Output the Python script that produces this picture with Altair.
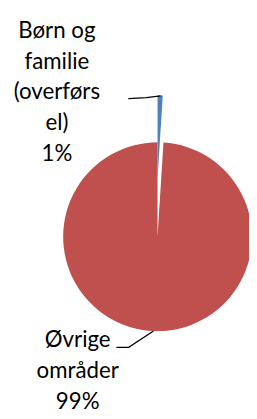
import altair as alt
import pandas as pd

# ---- data ----
categories = ["Børn og familie (overførsel)", "Øvrige områder"]
values = [1.0, 99.0]
label_text = ["Børn og\nfamilie\n(overførs\nel)\n1%", "Øvrige\nområder\n99%"]
colors = ["#4F81BD", "#C0504D"]

# ---- layout constants (pixels, chart coordinates) ----
CX, CY, R = 154.5, 229.5, 97.5
EXPLODE, R_EXPLODED = 60.0, 86.0
LABEL_X = [50.5, 72.0]
LABEL_Y = [23.7, 343.7]   # baseline of first line
LEADER_GRP = [0, 0, 0, 1, 1, 1]
LEADER_ORD = [0, 1, 2, 0, 1, 2]
LEADER_X = [124.3, 143.0, 157.7, 112.0, 124.7, 150.3]
LEADER_Y = [86.7, 85.7, 84.0, 343.7, 343.7, 327.0]

df = pd.DataFrame({"category": categories, "value": values, "idx": list(range(len(values)))})


def pie(show_idx, cy, radius):
    return alt.Chart(df).mark_arc(outerRadius=radius).encode(
        theta=alt.Theta("value:Q", stack=True),
        order=alt.Order("idx:Q", sort="ascending"),
        color=alt.Color("category:N", scale=alt.Scale(domain=categories, range=colors), legend=None),
        opacity=alt.condition(alt.datum.idx == show_idx, alt.value(1), alt.value(0)),
        x=alt.value(CX),
        y=alt.value(cy),
    )


red = pie(1, CY, R)
blue = pie(0, CY - EXPLODE, R_EXPLODED)

text_df = pd.DataFrame({"label": label_text, "x": LABEL_X, "y": LABEL_Y})
labels = alt.Chart(text_df).mark_text(
    font="Lato", fontSize=23, lineHeight=32, lineBreak="\n",
    align="center", baseline="alphabetic", color="black"
).encode(
    text="label:N",
    x=alt.X("x:Q", scale=None, axis=None),
    y=alt.Y("y:Q", scale=None, axis=None),
)

lead_df = pd.DataFrame({"grp": LEADER_GRP, "o": LEADER_ORD, "x": LEADER_X, "y": LEADER_Y})
leaders = alt.Chart(lead_df).mark_line(color="black", strokeWidth=1.3).encode(
    x=alt.X("x:Q", scale=None, axis=None),
    y=alt.Y("y:Q", scale=None, axis=None),
    detail="grp:N",
    order="o:Q",
)

chart = alt.layer(red, blue, leaders, labels).properties(
    width=249, height=411, padding=0, autosize="none"
).configure_view(stroke=None)

chart.save("out.html", embed_options={"renderer": "svg", "actions": False})
